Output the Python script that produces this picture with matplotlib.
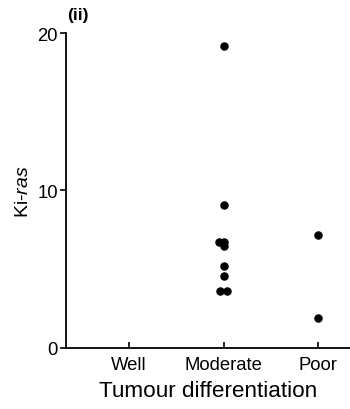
import matplotlib
matplotlib.use('Agg')
import matplotlib.pyplot as plt

plt.rcParams['font.family'] = ['Liberation Sans', 'DejaVu Sans']
plt.rcParams['mathtext.fontset'] = 'custom'
plt.rcParams['mathtext.rm'] = 'Liberation Sans'
plt.rcParams['mathtext.it'] = 'Liberation Sans:italic'

# Ki-ras values per differentiation group
categories = ['Well', 'Moderate', 'Poor']
moderate_vals = [19.2, 9.1, 6.75, 6.7, 6.45, 5.18, 4.55, 3.6, 3.6]
moderate_off = [0.0, 0.0, -0.05, 0.0, 0.01, 0.0, 0.0, -0.04, 0.04]
poor_vals = [7.2, 1.9]
poor_off = [0.0, 0.0]

fig = plt.figure(figsize=(3.5, 4.1), dpi=100)
ax = fig.add_axes([0.189, 0.149, 0.811, 0.768])

ax.scatter([2 + o for o in moderate_off], moderate_vals, s=26, color='black', zorder=3)
ax.scatter([3 + o for o in poor_off], poor_vals, s=26, color='black', zorder=3)

ax.set_xlim(0.333, 3.34)
ax.set_ylim(0, 20)
ax.set_yticks([0, 10, 20])
ax.set_xticks([1, 2, 3])
ax.set_xticklabels(categories)
ax.tick_params(axis='x', direction='in', length=4, width=1.2, labelsize=13.3, pad=6)
ax.tick_params(axis='y', direction='out', length=4, width=1.2, labelsize=13.3, pad=2)
for s in ['top', 'right']:
    ax.spines[s].set_visible(False)
for s in ['left', 'bottom']:
    ax.spines[s].set_linewidth(1.3)

ax.set_xlabel('Tumour differentiation', fontsize=16.2, labelpad=5)
ax.set_ylabel('Ki-$\\it{ras}$', fontsize=14, labelpad=4)
fig.text(0.193, 0.963, '(ii)', fontsize=12.5, fontweight='bold', ha='left', va='center')

fig.savefig('out.png', dpi=100)
